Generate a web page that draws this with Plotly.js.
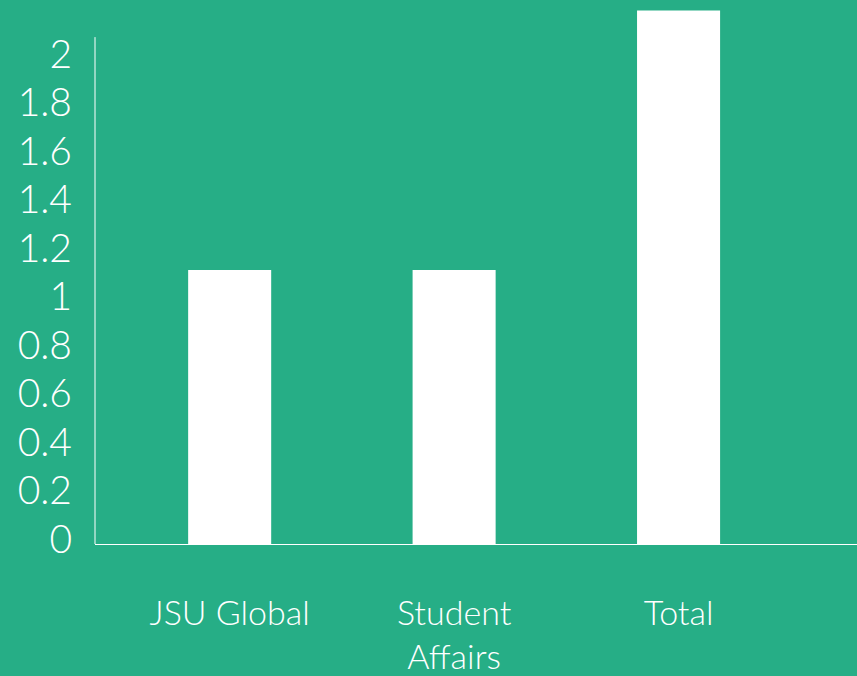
<!DOCTYPE html>
<html>
<head>
<meta charset="utf-8">
<script src="https://cdn.plot.ly/plotly-3.0.1.min.js"></script>
<style>html,body{margin:0;padding:0;background:#26AE86;}</style>
</head>
<body>
<div id="chart" style="width:857px;height:676px;"></div>
<script>
const categories = ["JSU Global", "Student<br>Affairs", "Total"];
const values = [1.13, 1.13, 2.2];
const tickValues = [0, 0.2, 0.4, 0.6, 0.8, 1, 1.2, 1.4, 1.6, 1.8, 2];
const tickLabels = ["0", "0.2", "0.4", "0.6", "0.8", "1", "1.2", "1.4", "1.6", "1.8", "2"];

const green = "#26AE86";
const trace = {
  type: "bar",
  x: [0, 1, 2],
  y: values,
  width: 0.37,
  marker: {color: "#FFFFFF", line: {width: 0}},
  hoverinfo: "none"
};

const layout = {
  width: 857,
  height: 676,
  paper_bgcolor: green,
  plot_bgcolor: green,
  margin: {l: 95, r: 0, t: 0, b: 132},
  showlegend: false,
  font: {family: "Lato, 'Open Sans', sans-serif", color: "#FFFFFF"},
  xaxis: {
    range: [-0.6, 2.795],
    tickvals: [0, 1, 2],
    ticktext: categories,
    showgrid: false,
    zeroline: false,
    showline: true,
    linecolor: "#FFFFFF",
    linewidth: 1,
    ticks: "",
    ticklabelstandoff: 39,
    tickfont: {size: 34, color: "#FFFFFF", weight: 300},
    fixedrange: true
  },
  yaxis: {
    range: [0, 2.243],
    tickvals: tickValues,
    ticktext: tickLabels,
    showgrid: false,
    zeroline: false,
    showline: false,
    ticks: "",
    ticklabelstandoff: 22,
    ticklabelshift: -5,
    tickfont: {size: 39, color: "#FFFFFF", weight: 300},
    fixedrange: true
  },
  shapes: [{
    type: "line",
    xref: "paper", yref: "y",
    x0: 0, x1: 0, y0: 0, y1: 2.09,
    line: {color: "#FFFFFF", width: 1}
  }]
};

Plotly.newPlot("chart", [trace], layout, {displayModeBar: false, staticPlot: true});
</script>
</body>
</html>
